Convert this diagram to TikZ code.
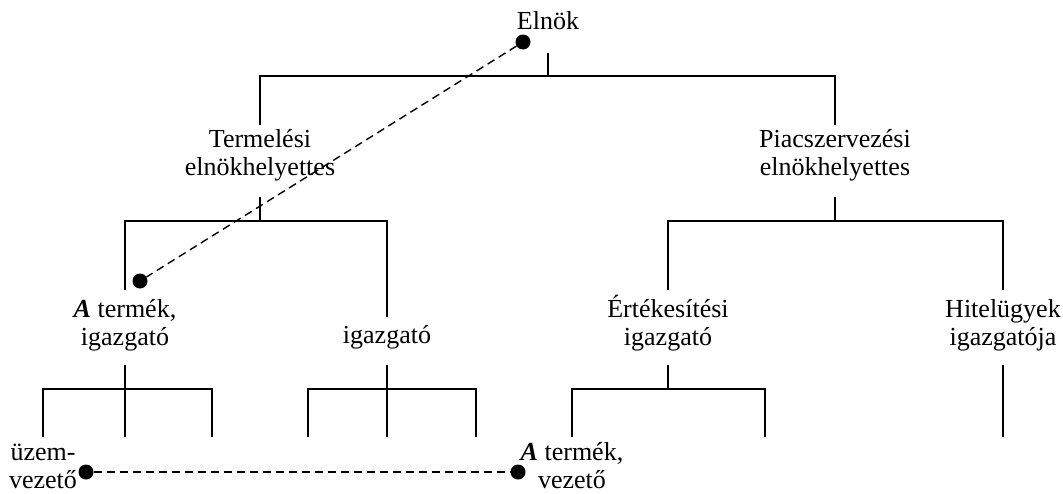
\documentclass[tikz,border=0pt]{standalone}
\usepackage{fontspec}
\setmainfont{Liberation Serif}
\begin{document}
\begin{tikzpicture}[x=1pt,y=-1pt,
  lbl/.style={inner sep=0pt,align=center,anchor=base,font=\fontsize{26}{28}\selectfont},
  tree/.style={line width=1.5pt},
  link/.style={line width=1.4pt,dash pattern=on 8pt off 5pt},
  dot/.style={circle,fill=black,inner sep=0pt,minimum size=15pt}]
\useasboundingbox (0,0) rectangle (1063,493);
% texts (placed at the baseline of their last line)
\node[lbl] (elnok) at (548,29) {Elnök};
\node[lbl] (term) at (260,175) {Termelési\\elnökhelyettes};
\node[lbl] (piac) at (835,175) {Piacszervezési\\elnökhelyettes};
\node[lbl] (aig) at (125,345) {\textbf{\textit{A}} termék,\\igazgató};
\node[lbl] (ig) at (387,343) {igazgató};
\node[lbl] (ert) at (668,345) {Értékesítési\\igazgató};
\node[lbl] (hit) at (1003,345) {Hitelügyek\\igazgatója};
\node[lbl] (uzem) at (43,488) {üzem-\\vezető};
\node[lbl] (atv) at (572,488) {\textbf{\textit{A}} termék,\\vezető};
% coordinates
\coordinate (e1) at (548,53); \coordinate (e2) at (548,76);
\coordinate (b1l) at (260,76); \coordinate (b1r) at (835,76);
\coordinate (t1) at (260,125); \coordinate (p1) at (835,125);
\coordinate (t2) at (260,197); \coordinate (t3) at (260,221);
\coordinate (t3l) at (125,221); \coordinate (t3r) at (387,221);
\coordinate (a1) at (125,290); \coordinate (i1) at (387,317);
\coordinate (p2) at (835,197); \coordinate (p3) at (835,221);
\coordinate (p3l) at (668,221); \coordinate (p3r) at (1003,221);
\coordinate (r1) at (668,290); \coordinate (h1) at (1003,290);
\coordinate (a2) at (125,365); \coordinate (a3) at (125,389);
\coordinate (a3l) at (43,389); \coordinate (a3r) at (212,389);
\coordinate (a4l) at (43,437); \coordinate (a4m) at (125,437); \coordinate (a4r) at (212,437);
\coordinate (i2) at (387,365); \coordinate (i3) at (387,389);
\coordinate (i3l) at (308,389); \coordinate (i3r) at (476,389);
\coordinate (i4l) at (308,437); \coordinate (i4m) at (387,437); \coordinate (i4r) at (476,437);
\coordinate (r2) at (668,365); \coordinate (r3) at (668,389);
\coordinate (r3l) at (572,389); \coordinate (r3r) at (765,389);
\coordinate (r4l) at (572,437); \coordinate (r4r) at (765,437);
\coordinate (h2) at (1003,365); \coordinate (h4) at (1003,437);
% tree lines
\draw[tree] (e1) -- (e2);
\draw[tree] (t1) -- (b1l) -- (b1r) -- (p1);
\draw[tree] (t2) -- (t3);
\draw[tree] (a1) -- (t3l) -- (t3r) -- (i1);
\draw[tree] (p2) -- (p3);
\draw[tree] (r1) -- (p3l) -- (p3r) -- (h1);
\draw[tree] (a2) -- (a4m);
\draw[tree] (a4l) -- (a3l) -- (a3r) -- (a4r);
\draw[tree] (i2) -- (i4m);
\draw[tree] (i4l) -- (i3l) -- (i3r) -- (i4r);
\draw[tree] (r2) -- (r3);
\draw[tree] (r4l) -- (r3l) -- (r3r) -- (r4r);
\draw[tree] (h2) -- (h4);
% dots and dashed links
\node[dot] (d1) at (523,42) {};
\node[dot] (d2) at (140,281) {};
\node[dot] (d3) at (86,472) {};
\node[dot] (d4) at (518,472) {};
\draw[link] (d1) -- (d2);
\draw[link] (d3) -- (d4);
\end{tikzpicture}
\end{document}
